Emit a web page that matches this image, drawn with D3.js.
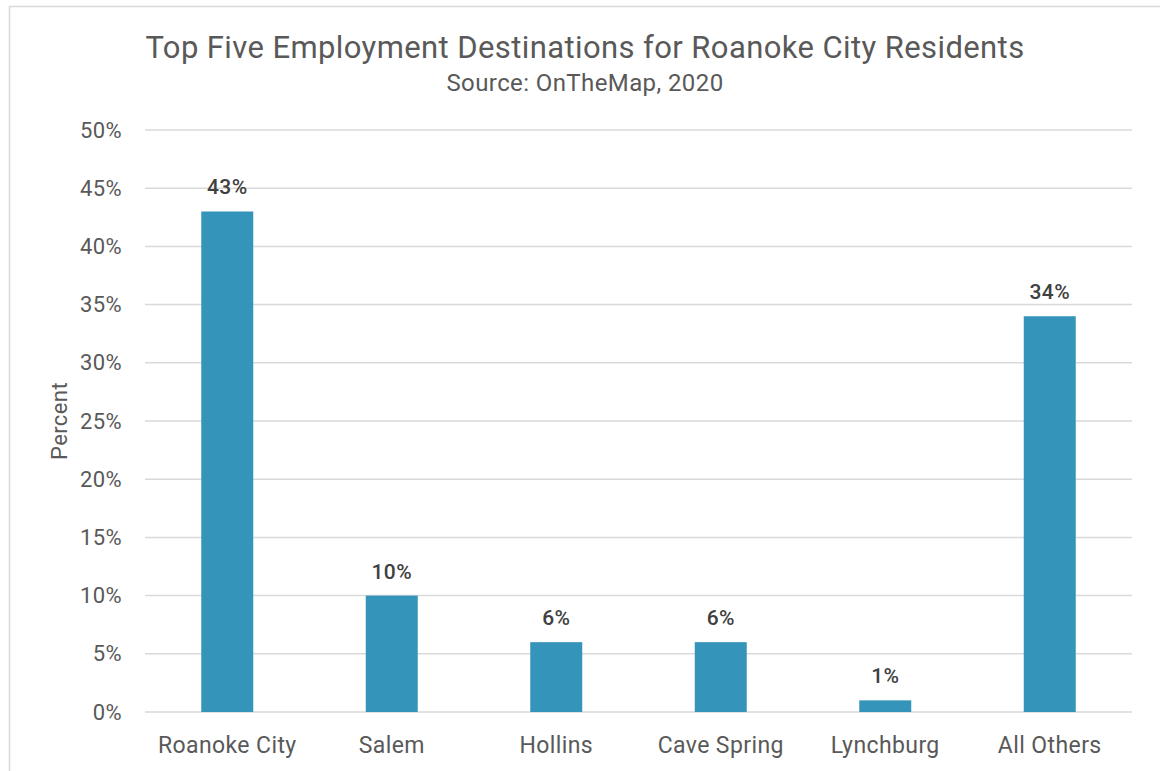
<!DOCTYPE html>
<html>
<head>
<meta charset="utf-8">
<script src="https://cdn.jsdelivr.net/npm/d3@7"></script>
<style>
  body { margin: 0; background: #fff; }
  svg text { font-family: Roboto, "Noto Sans", sans-serif; letter-spacing: 0.4px; }
</style>
</head>
<body>
<div id="chart"></div>
<script>
// chart data
var categories = ["Roanoke City", "Salem", "Hollins", "Cave Spring", "Lynchburg", "All Others"];
var percents = [43, 10, 6, 6, 1, 34];
var yTicks = [0, 5, 10, 15, 20, 25, 30, 35, 40, 45, 50];

var W = 1160, H = 771;
var margin = {top: 130, right: 28, bottom: 59, left: 145};
var width = W - margin.left - margin.right,
    height = H - margin.top - margin.bottom;

var svg = d3.select("#chart").append("svg")
    .attr("width", W)
    .attr("height", H);

// outer chart border
svg.append("rect")
    .attr("x", 9.5).attr("y", 6.5)
    .attr("width", W + 20).attr("height", H + 20)
    .attr("fill", "none")
    .attr("stroke", "#d9d9d9")
    .attr("stroke-width", 1.5);

var g = svg.append("g")
    .attr("transform", "translate(" + margin.left + "," + margin.top + ")");

var x = d3.scaleBand()
    .domain(categories)
    .range([0, width])
    .paddingInner(0.684)
    .paddingOuter(0.342);

var y = d3.scaleLinear()
    .domain([0, 50])
    .range([height, 0]);

// gridlines
g.selectAll(".grid")
    .data(yTicks)
    .enter().append("line")
    .attr("class", "grid")
    .attr("x1", 0).attr("x2", width)
    .attr("y1", function(d) { return y(d); })
    .attr("y2", function(d) { return y(d); })
    .attr("stroke", "#d9d9d9")
    .attr("stroke-width", 1.5);

// y axis labels
var yAxis = d3.axisLeft(y)
    .tickValues(yTicks)
    .tickFormat(function(d) { return d + "%"; })
    .tickSize(0)
    .tickPadding(23);
g.append("g")
    .call(yAxis)
    .call(function(s) { s.select(".domain").remove(); })
    .selectAll("text")
    .attr("font-size", 22)
    .attr("fill", "#595959")
    .style("font-family", "Roboto, sans-serif");

// x axis labels
var xAxis = d3.axisBottom(x).tickSize(0).tickPadding(25);
g.append("g")
    .attr("transform", "translate(0," + height + ")")
    .call(xAxis)
    .call(function(s) { s.select(".domain").remove(); })
    .selectAll("text")
    .attr("font-size", 23)
    .attr("fill", "#595959")
    .style("font-family", "Roboto, sans-serif");

// bars
g.selectAll(".bar")
    .data(percents)
    .enter().append("rect")
    .attr("class", "bar")
    .attr("x", function(d, i) { return x(categories[i]); })
    .attr("width", x.bandwidth())
    .attr("y", function(d) { return y(d); })
    .attr("height", function(d) { return height - y(d); })
    .attr("fill", "#3494ba");

// value labels
g.selectAll(".val")
    .data(percents)
    .enter().append("text")
    .attr("class", "val")
    .attr("x", function(d, i) { return x(categories[i]) + x.bandwidth() / 2; })
    .attr("y", function(d) { return y(d) - 17; })
    .attr("text-anchor", "middle")
    .attr("font-size", 21)
    .attr("font-weight", 500)
    .attr("fill", "#404040")
    .text(function(d) { return d + "%"; });

// title + subtitle
svg.append("text")
    .attr("x", 585).attr("y", 58)
    .attr("text-anchor", "middle")
    .attr("font-size", 31)
    .attr("fill", "#595959")
    .text("Top Five Employment Destinations for Roanoke City Residents");
svg.append("text")
    .attr("x", 585).attr("y", 91)
    .attr("text-anchor", "middle")
    .attr("font-size", 24)
    .attr("fill", "#595959")
    .text("Source: OnTheMap, 2020");

// y axis title
svg.append("text")
    .attr("transform", "translate(67," + (margin.top + height / 2) + ") rotate(-90)")
    .attr("text-anchor", "middle")
    .attr("font-size", 22)
    .attr("fill", "#595959")
    .text("Percent");
</script>
</body>
</html>
